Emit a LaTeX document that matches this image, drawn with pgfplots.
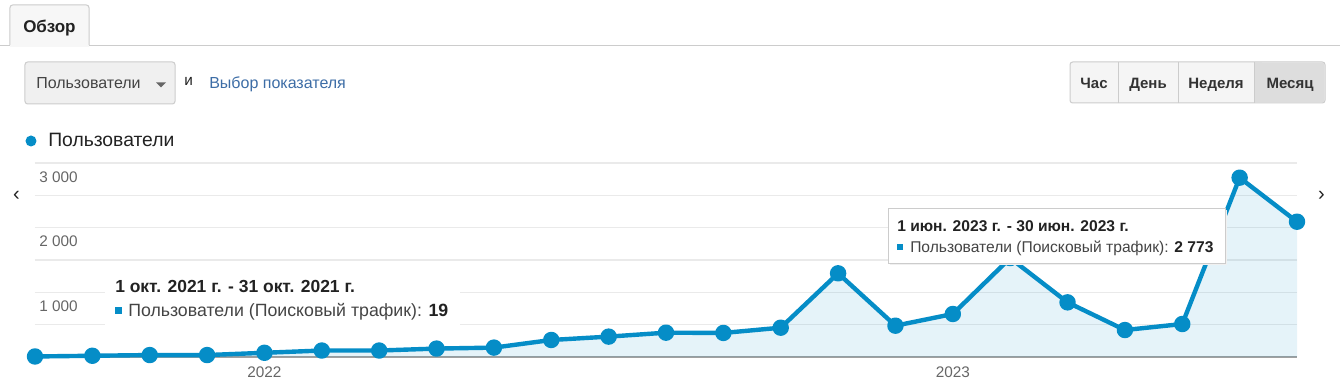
\documentclass[border=0pt]{standalone}
\usepackage{pgfplots}
\pgfplotsset{compat=1.18}
\usepackage{pgfplotstable}
\usepackage{fontspec}
\setmainfont{Liberation Sans}
\definecolor{gablue}{HTML}{058DC7}
\definecolor{gridgray}{HTML}{EAEAEA}
\definecolor{basegray}{HTML}{A0A0A0}
\definecolor{bordergray}{HTML}{CCCCCC}
\definecolor{tickgray}{HTML}{666666}
\definecolor{txtdark}{HTML}{222222}
\definecolor{txtmid}{HTML}{444444}
\definecolor{linkblue}{HTML}{3D6DA6}
\definecolor{btnfill}{HTML}{F5F5F5}
\definecolor{btnsel}{HTML}{DDDDDD}

\pgfplotstableread{
x y
0 8
1 19
2 30
3 30
4 65
5 100
6 100
7 130
8 145
9 263
10 315
11 376
12 372
13 453
14 1294
15 484
16 665
17 1530
18 845
19 417
20 510
21 2773
22 2092
}\users

\begin{document}
\begin{tikzpicture}
\begin{scope}[x=0.75pt,y=0.75pt,shift={(-26.25pt,-23.25pt)}]
\path[use as bounding box, fill=white] (0,0) rectangle (1340,388);

% tab
\draw[bordergray, line width=0.75pt] (0,342) -- (1340,342);
\filldraw[fill=white!97!black, draw=bordergray, line width=0.75pt, rounded corners=2pt] (10,342.5) -- (10,383) -- (89,383) -- (89,342.5);
\fill[white!97!black] (10.5,341) rectangle (88.5,343);
\node[anchor=base west, inner sep=0, text=txtdark, font=\fontsize{12.75}{14}\selectfont\bfseries] at (23,355) {Обзор};

% dropdown
\filldraw[fill=white!94!black, draw=bordergray, line width=0.75pt, rounded corners=2pt] (25,284) rectangle (175,326);
\node[anchor=base west, inner sep=0, text=txtmid, font=\fontsize{12}{14}\selectfont] at (36,299) {Пользователи};
\fill[black!60] (156,305.5) -- (166,305.5) -- (161,300.5) -- cycle;
\node[anchor=base west, inner sep=0, text=txtdark, font=\fontsize{11.5}{14}\selectfont] at (184,302) {и};
\node[anchor=base west, inner sep=0, text=linkblue, font=\fontsize{12}{14}\selectfont] at (209,299.5) {Выбор показателя};

% buttons
\filldraw[fill=btnfill, draw=bordergray, line width=0.75pt, rounded corners=2pt] (1070,285) rectangle (1325,326);
\fill[btnsel, rounded corners=2pt] (1254,285.5) rectangle (1324.5,325.5);
\fill[btnsel] (1254,285.5) rectangle (1262,325.5);
\foreach \xx in {1118,1178,1254} \draw[bordergray, line width=0.75pt] (\xx,285) -- (\xx,326);
\foreach \xx/\tt in {1094/Час,1148/День,1216/Неделя,1290/Месяц}
  \node[anchor=base, inner sep=0, text=black!80, font=\fontsize{11.25}{13}\selectfont\bfseries] at (\xx,299) {\tt};

% legend
\fill[gablue] (31,247) circle (5.5);
\node[anchor=base west, inner sep=0, text=txtdark, font=\fontsize{14.5}{16}\selectfont] at (48,241) {Пользователи};

% arrows
\node[anchor=base, inner sep=0, text=txtdark, font=\fontsize{15}{16}\selectfont] at (16.5,187.5) {‹};
\node[anchor=base, inner sep=0, text=txtdark, font=\fontsize{15}{16}\selectfont] at (1321.5,187.5) {›};
\end{scope}

\begin{axis}[
  at={(0pt,0pt)}, anchor=south west,
  scale only axis, width=946.5pt, height=145.5pt,
  xmin=0, xmax=22, ymin=0, ymax=3000,
  clip=false,
  axis line style={draw=none},
  major tick length=0pt,
  tick style={draw=none},
  xtick={4,16}, xticklabels={2022,2023},
  ytick={500,1000,...,3000},
  yticklabels={,1 000,,2 000,,3 000},
  ymajorgrids,
  grid style={gridgray, line width=0.9pt},
  extra y ticks={0}, extra y tick labels={},
  extra y tick style={grid style={basegray, line width=1.6pt}},
  yticklabel style={anchor=base west, inner sep=0pt, xshift=3pt, yshift=-14.5pt, text=tickgray, font=\fontsize{11.5}{13}\selectfont},
  xticklabel style={anchor=base, inner sep=0pt, yshift=-15.75pt, text=tickgray, font=\fontsize{11.5}{13}\selectfont},
]
\addplot[draw=none, fill=gablue, fill opacity=0.1] table[x=x,y=y]{\users} \closedcycle;
\addplot[gablue, line width=3.3pt, line join=round, mark=*, mark size=4.5pt, mark options={fill=gablue, draw=none}] table[x=x,y=y]{\users};
\end{axis}

\begin{scope}[x=0.75pt,y=0.75pt,shift={(-26.25pt,-23.25pt)}]
% tooltip 1
\fill[white] (105,63) rectangle (460,113);
\node[anchor=base west, inner sep=0, text=txtdark, font=\fontsize{13.1}{15}\selectfont\bfseries] at (115,95) {1 окт. 2021 г. - 31 окт. 2021 г.};
\fill[gablue] (114.5,73.5) rectangle (121.5,80.5);
\node[anchor=base west, inner sep=0, text=txtmid, font=\fontsize{13.3}{15}\selectfont] at (128,71) {Пользователи (Поисковый трафик): \textcolor{txtdark}{\bfseries 19}};

% tooltip 2
\fill[black!6] (889.5,122.5) rectangle (1227,177.5);
\filldraw[fill=white, draw=bordergray, line width=0.75pt] (888,124) rectangle (1225,179);
\node[anchor=base west, inner sep=0, text=txtdark, font=\fontsize{11.7}{14}\selectfont\bfseries] at (897,156) {1 июн. 2023 г. - 30 июн. 2023 г.};
\fill[gablue] (897,138) rectangle (903,144);
\node[anchor=base west, inner sep=0, text=txtmid, font=\fontsize{11.7}{14}\selectfont] at (910,135.5) {Пользователи (Поисковый трафик): \textcolor{txtdark}{\bfseries 2 773}};
\end{scope}
\end{tikzpicture}
\end{document}
